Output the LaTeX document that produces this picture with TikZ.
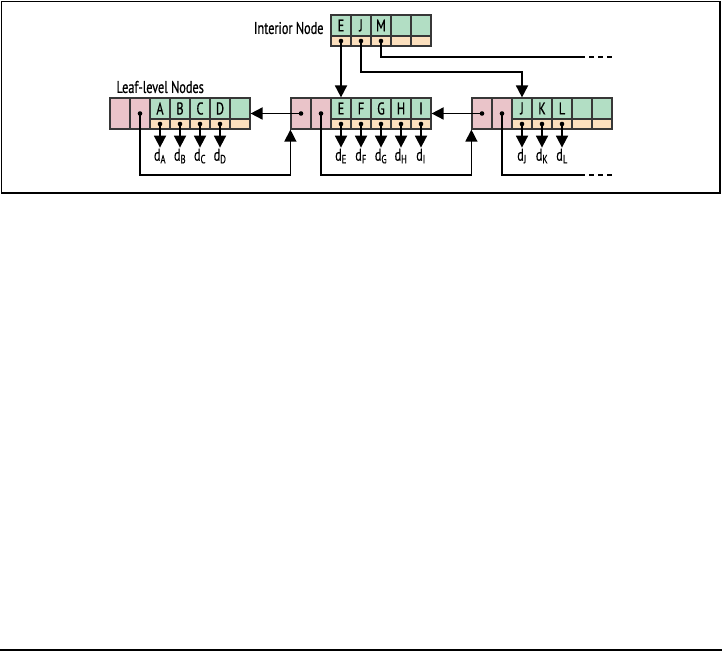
\documentclass[tikz,border=0pt]{standalone}
\usepackage{fontspec}
\setmainfont{PT Sans}[FakeStretch=0.72, FakeBold=0.6]
\usetikzlibrary{arrows.meta,positioning}

\begin{document}
\begin{tikzpicture}[x=1pt, y=-1pt,
    txt/.style={font=\fontsize{17}{19}\selectfont},
    cell/.style={txt, draw=mygrid, line width=1.2pt, inner sep=0pt, minimum width=20pt},
    linkcell/.style={cell, fill=mypink, minimum height=31pt},
    keycell/.style={cell, fill=mygreen, minimum height=21pt},
    ptrcell/.style={cell, fill=myorange, minimum height=10pt},
    ptr/.style={-{Triangle[width=12pt,length=12pt]}, line width=1.8pt},
    link/.style={-{Triangle[width=12pt,length=12pt]}, line width=1.2pt},
    more/.style={line width=1.4pt, dash pattern=on 5pt off 4pt},
    dlabel/.style={txt, inner sep=1pt}]
    \definecolor{mygrid}{RGB}{55,55,55}
    \definecolor{mygreen}{RGB}{178,222,196}
    \definecolor{mypink}{RGB}{234,196,201}
    \definecolor{myorange}{RGB}{252,224,190}

    \useasboundingbox (0,0) rectangle (722,652);
    \draw[line width=1.5pt] (1.5,1.5) rectangle (720,193);
    \draw[line width=1.5pt] (0,650) -- (722,650);

    % interior node
    \node[txt, anchor=east] (intlabel) at (327,28) {Interior Node};
    \foreach \t [count=\k] in {E,J,M,{},{}} {
        \node[keycell] (i\k) at (321+20*\k,25.5) {\t};
        \node[ptrcell] (ip\k) at (321+20*\k,41) {};
    }

    % leaf level
    \node[txt, anchor=west] (leaflabel) at (113,87) {Leaf-level Nodes};
    \foreach \leaf/\x/\keys in {a/110/{A,B,C,D,{}}, b/291/{E,F,G,H,I}, c/472/{J,K,L,{},{}}} {
        \node[linkcell] (\leaf0) at (\x+10,113.5) {};
        \node[linkcell] (\leaf1) at (\x+30,113.5) {};
        \foreach \t [count=\k] in \keys {
            \node[keycell] (\leaf k\k) at (\x+30+20*\k,108.5) {\t};
            \node[ptrcell] (\leaf p\k) at (\x+30+20*\k,124) {};
        }
    }

    \foreach \t/\c in {A/ap1,B/ap2,C/ap3,D/ap4,E/bp1,F/bp2,G/bp3,H/bp4,I/bp5,J/cp1,K/cp2,L/cp3} {
        \node[dlabel, below=18pt of \c] (d\t) {d\textsubscript{\t}};
        \draw[ptr] (\c.center) -- (d\t);
    }

    % interior pointers
    \coordinate (mcont) at (580,57);
    \coordinate (mend) at (613,57);
    \draw[ptr] (ip1.center) -- (bk1.north);
    \draw[ptr] (ip2.center) -- (ip2.center |- 0,72) -| (ck1.north);
    \draw[line width=1.4pt] (ip3.center) -- (ip3.center |- 0,57) -- (mcont);
    \draw[more] (mcont) -- (mend);

    % sibling links
    \coordinate (ccont) at (580,175);
    \coordinate (cend) at (613,175);
    \draw[ptr] (b0.center) -- (b0.center -| ak5.east);
    \draw[ptr] (c0.center) -- (c0.center -| bk5.east);
    \draw[link] (a1.center) -- (a1.center |- 0,175) -| (b0.south west);
    \draw[link] (b1.center) -- (b1.center |- 0,175) -| (c0.south west);
    \draw[line width=1.2pt] (c1.center) -- (c1.center |- 0,175) -- (ccont);
    \draw[more] (ccont) -- (cend);

    \foreach \c in {ip1,ip2,ip3,a1,b0,b1,c0,c1,ap1,ap2,ap3,ap4,bp1,bp2,bp3,bp4,bp5,cp1,cp2,cp3}
        \fill[black] (\c.center) circle (2.3pt);
\end{tikzpicture}
\end{document}
